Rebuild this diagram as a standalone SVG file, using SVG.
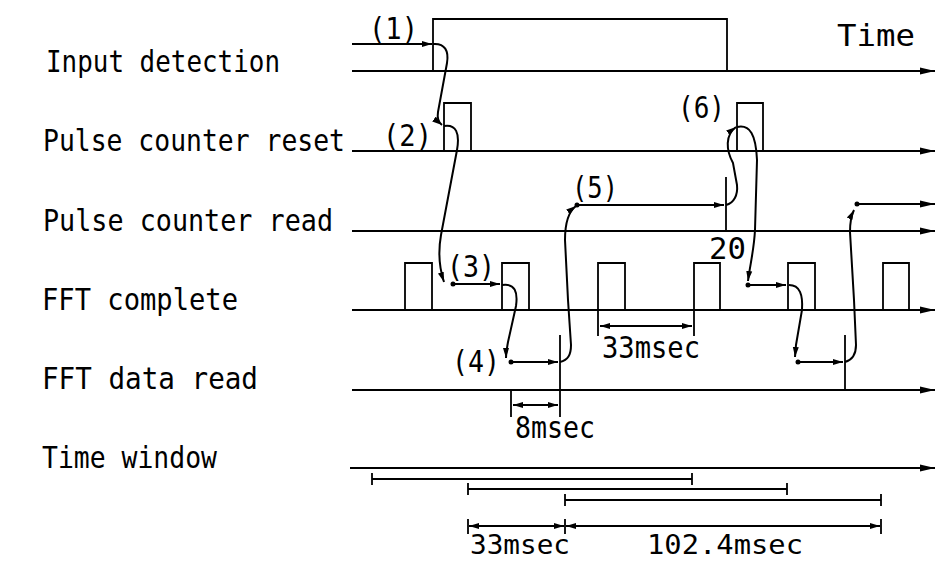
<svg xmlns="http://www.w3.org/2000/svg" width="938" height="562" viewBox="0 0 938 562">
<style>
.t{font-family:"DejaVu Sans Mono","Liberation Mono",monospace;font-size:30px;fill:#000}
.tb{font-family:"DejaVu Sans Mono","Liberation Mono",monospace;font-size:27px;fill:#000}
.sig{fill:none;stroke:#000;stroke-width:2.2}
.pl{fill:none;stroke:#000;stroke-width:1.8}
.cv{fill:none;stroke:#000;stroke-width:2}
.ln{fill:none;stroke:#000;stroke-width:1.8}
.dot{fill:#000}
</style>
<defs>
<marker id="big" markerUnits="userSpaceOnUse" markerWidth="16" markerHeight="10" refX="15" refY="5" orient="auto"><path d="M0,1.5 L15,5 L0,8.5 z" fill="#000"/></marker>
<marker id="sm" markerUnits="userSpaceOnUse" markerWidth="11" markerHeight="8" refX="10" refY="4" orient="auto"><path d="M0,1 L10,4 L0,7 z" fill="#000"/></marker>
<marker id="smr" markerUnits="userSpaceOnUse" markerWidth="11" markerHeight="8" refX="10" refY="4" orient="auto-start-reverse"><path d="M0,1 L10,4 L0,7 z" fill="#000"/></marker>
</defs>
<rect width="938" height="562" fill="#fff"/>

<g id="input-detection">
<text class="t" x="46" y="72" textLength="234" lengthAdjust="spacingAndGlyphs">Input detection</text>
<line class="sig" x1="352" y1="71" x2="935" y2="71" marker-end="url(#big)"/>
<polyline class="pl" points="433,71 433,19 727,19 727,71"/>
<text class="t" x="837" y="46" textLength="78" lengthAdjust="spacingAndGlyphs">Time</text>
</g>

<g id="pulse-counter-reset">
<text class="t" x="43" y="151" textLength="302" lengthAdjust="spacingAndGlyphs">Pulse counter reset</text>
<line class="sig" x1="352" y1="151" x2="935" y2="151" marker-end="url(#big)"/>
<polyline class="pl" points="444,151 444,103 471,103 471,151"/>
<polyline class="pl" points="737,151 737,103 763,103 763,151"/>
</g>

<g id="pulse-counter-read">
<text class="t" x="43" y="231" textLength="290" lengthAdjust="spacingAndGlyphs">Pulse counter read</text>
<line class="sig" x1="352" y1="231" x2="935" y2="231" marker-end="url(#big)"/>
<line class="ln" x1="726" y1="177" x2="726" y2="231"/>
<text class="t" x="709" y="259" textLength="37" lengthAdjust="spacingAndGlyphs">20</text>
</g>

<g id="fft-complete">
<text class="t" x="42" y="310" textLength="196" lengthAdjust="spacingAndGlyphs">FFT complete</text>
<line class="sig" x1="352" y1="310" x2="935" y2="310" marker-end="url(#big)"/>
<polyline class="pl" points="405,310 405,263 432,263 432,310"/>
<polyline class="pl" points="502,310 502,263 529,263 529,310"/>
<polyline class="pl" points="598,336 598,263 625,263 625,310"/>
<polyline class="pl" points="694,336 694,263 720,263 720,310"/>
<polyline class="pl" points="788,310 788,263 815,263 815,310"/>
<polyline class="pl" points="883,310 883,263 909,263 909,310"/>
<line class="ln" x1="600" y1="326" x2="692" y2="326" marker-start="url(#smr)" marker-end="url(#smr)"/>
<text class="t" x="602" y="358" textLength="98" lengthAdjust="spacingAndGlyphs">33msec</text>
</g>

<g id="fft-data-read">
<text class="t" x="42" y="389" textLength="216" lengthAdjust="spacingAndGlyphs">FFT data read</text>
<line class="sig" x1="352" y1="390" x2="935" y2="390" marker-end="url(#big)"/>
<line class="ln" x1="560" y1="335" x2="560" y2="417"/>
<line class="ln" x1="845" y1="335" x2="845" y2="390"/>
<line class="ln" x1="511" y1="390" x2="511" y2="417"/>
<line class="ln" x1="513" y1="405" x2="558" y2="405" marker-start="url(#smr)" marker-end="url(#smr)"/>
<text class="t" x="515" y="438" textLength="80" lengthAdjust="spacingAndGlyphs">8msec</text>
</g>

<g id="time-window">
<text class="t" x="42" y="468" textLength="175" lengthAdjust="spacingAndGlyphs">Time window</text>
<line class="sig" x1="350" y1="468" x2="935" y2="468" marker-end="url(#big)"/>
<path class="ln" d="M372,479 H692 M372,473 V485 M692,473 V485"/>
<path class="ln" d="M468,489 H787 M468,483 V495 M787,483 V495"/>
<path class="ln" d="M565,500 H881 M565,494 V506 M881,494 V506"/>
<path class="ln" d="M468,519 V534 M565,519 V534 M881,519 V534"/>
<line class="ln" x1="469" y1="526" x2="564" y2="526" marker-start="url(#smr)" marker-end="url(#smr)"/>
<line class="ln" x1="566" y1="526" x2="880" y2="526" marker-start="url(#smr)" marker-end="url(#smr)"/>
<text class="tb" x="470" y="554" textLength="100" lengthAdjust="spacingAndGlyphs">33msec</text>
<text class="tb" x="647" y="554" textLength="156" lengthAdjust="spacingAndGlyphs">102.4msec</text>
</g>

<g id="connectors">
<text class="t" x="369" y="39" textLength="49" lengthAdjust="spacingAndGlyphs">(1)</text>
<line class="cv" x1="352" y1="44" x2="432" y2="44" marker-end="url(#sm)"/>
<path class="cv" d="M433,44 C445,43 449,51 447,63 L438,112 C437,118 438,122 442,125" marker-end="url(#sm)"/>

<text class="t" x="383" y="146" textLength="49" lengthAdjust="spacingAndGlyphs">(2)</text>
<path class="cv" d="M444,126 C456,124 460,133 457,150 L441,235 C438,252 440,270 444,282" marker-end="url(#sm)"/>

<text class="t" x="447" y="277" textLength="48" lengthAdjust="spacingAndGlyphs">(3)</text>
<circle class="dot" cx="453" cy="284" r="2.5"/>
<line class="cv" x1="453" y1="284" x2="500" y2="284" marker-end="url(#sm)"/>
<path class="cv" d="M502,285 C515,283 518,292 516,306 L508,342 C507,348 506,352 506,358" marker-end="url(#sm)"/>

<text class="t" x="452" y="372" textLength="48" lengthAdjust="spacingAndGlyphs">(4)</text>
<circle class="dot" cx="511" cy="362" r="2.5"/>
<line class="cv" x1="511" y1="362" x2="558" y2="362" marker-end="url(#sm)"/>
<path class="cv" d="M560,362 C568,360 571,355 571,345 L568,300 L565,240 C565,224 568,212 576,206" marker-end="url(#sm)"/>

<text class="t" x="572" y="198" textLength="46" lengthAdjust="spacingAndGlyphs">(5)</text>
<circle class="dot" cx="577" cy="205" r="2.5"/>
<line class="cv" x1="577" y1="205" x2="724" y2="205" marker-end="url(#sm)"/>
<path class="cv" d="M726,205 C734,203 738,195 737,185 L733,163 C726,150 725,135 736,127" marker-end="url(#sm)"/>

<text class="t" x="678" y="118" textLength="47" lengthAdjust="spacingAndGlyphs">(6)</text>
<path class="cv" d="M737,127 C750,124 756,135 757,160 L755,230 C754,250 750,265 748,281" marker-end="url(#sm)"/>
<circle class="dot" cx="748" cy="285" r="2.5"/>
<line class="cv" x1="748" y1="285" x2="786" y2="285" marker-end="url(#sm)"/>
<path class="cv" d="M789,285 C800,285 803,295 802,310 L796,345 L795,357" marker-end="url(#sm)"/>
<circle class="dot" cx="798" cy="362" r="2.5"/>
<line class="cv" x1="798" y1="362" x2="843" y2="362" marker-end="url(#sm)"/>
<path class="cv" d="M845,362 C852,360 856,355 856,345 L854,300 L850,232 C850,223 851,216 854,210" marker-end="url(#sm)"/>
<circle class="dot" cx="857" cy="204" r="2.5"/>
<line class="cv" x1="857" y1="204" x2="935" y2="204" marker-end="url(#big)"/>
</g>
</svg>
